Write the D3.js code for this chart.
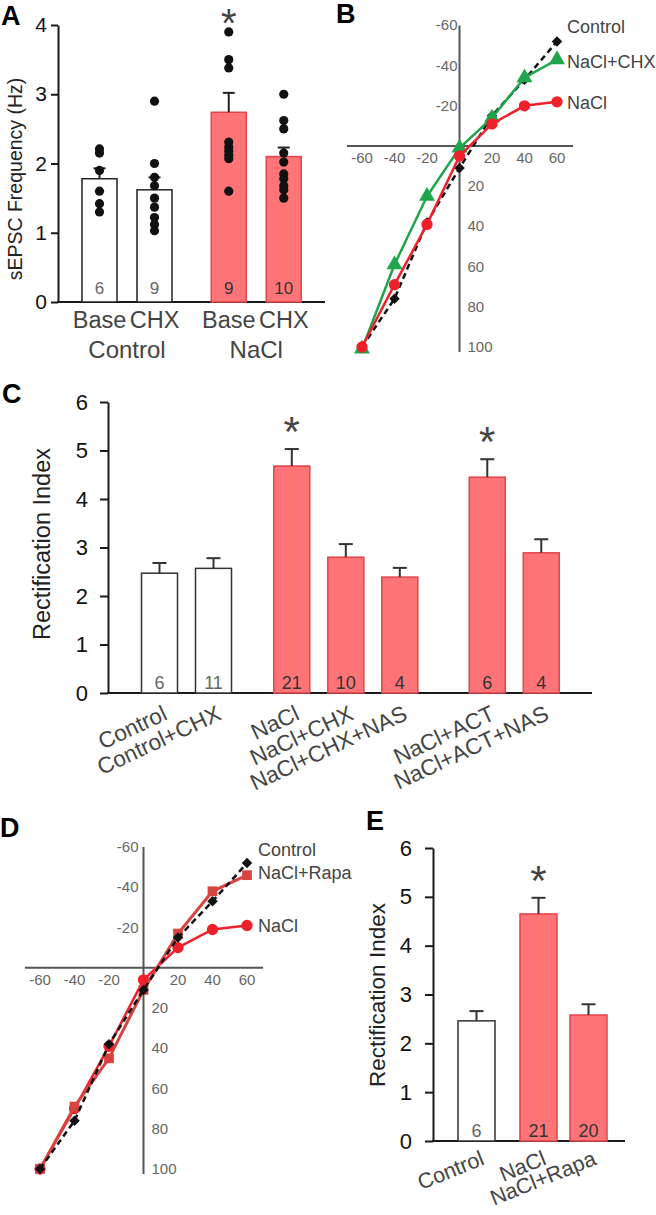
<!DOCTYPE html>
<html><head><meta charset="utf-8">
<script src="https://cdn.jsdelivr.net/npm/d3@7"></script>
<style>
body{margin:0;background:#fff}
svg{display:block}
text{font-family:"Liberation Sans",Arial,Helvetica,sans-serif}
</style>
</head><body>
<svg id="fig" width="656" height="1215"></svg>
<script>
// ---------------- DATA ----------------
// Panel A
const aGroups = ["Control", "NaCl"];
const aCats = ["Base", "CHX", "Base", "CHX"];
const aGroupOf = ["Control", "Control", "NaCl", "NaCl"];
const aMeans = [1.78, 1.62, 2.74, 2.10];
const aSems = [0.15, 0.18, 0.28, 0.13];
const aN = [6, 9, 9, 10];
const aSig = [false, false, true, false];
const aPoints = [
  [2.21, 2.15, 1.9, 1.6, 1.42, 1.3],
  [2.9, 2.0, 1.8, 1.68, 1.5, 1.37, 1.22, 1.12, 1.03],
  [3.9, 3.5, 3.38, 2.31, 2.24, 2.18, 2.12, 2.07, 1.6],
  [3.0, 2.62, 2.5, 2.15, 2.02, 1.85, 1.78, 1.68, 1.62, 1.5]
];
const aTicks = [0, 1, 2, 3, 4];

// Panels B and D (I-V curves)
const ivVoltages = [-60, -40, -20, 0, 20, 40, 60];
const ivXTicks = [-60, -40, -20, 20, 40, 60];
const ivYTicks = [-60, -40, -20, 20, 40, 60, 80, 100];
const bControl = [100, 76, 38, 11, -15, -33, -52];
const bNaClCHX = [101, 59, 25, 1, -14, -34, -43];
const bNaCl = [100, 69, 39, 5, -11, -20, -22];
const dControl = [100, 76, 38, 11, -15, -33, -52];
const dNaClRapa = [100, 69, 45, 11, -17, -38, -46];
const dNaCl = [100, 70, 39, 6, -10, -19, -21];

// Panel C
const cCats = ["Control", "Control+CHX", "NaCl", "NaCl+CHX", "NaCl+CHX+NAS", "NaCl+ACT", "NaCl+ACT+NAS"];
const cGroupOf = [0, 0, 1, 1, 1, 2, 2];
const cMeans = [2.47, 2.57, 4.68, 2.80, 2.39, 4.45, 2.89];
const cSems = [0.21, 0.21, 0.35, 0.27, 0.19, 0.37, 0.28];
const cN = [6, 11, 21, 10, 4, 6, 4];
const cSig = [false, false, true, false, false, true, false];
const riTicks = [0, 1, 2, 3, 4, 5, 6];

// Panel E
const eCats = ["Control", "NaCl", "NaCl+Rapa"];
const eGroupOf = [0, 1, 1];
const eMeans = [2.46, 4.65, 2.58];
const eSems = [0.20, 0.33, 0.22];
const eN = [6, 21, 20];
const eSig = [false, true, false];

// ---------------- DRAWING ----------------
const svg = d3.select("#fig");
svg.append("rect").attr("width", 656).attr("height", 1215).attr("fill", "#fff");

const RED_FILL = "#ff7477", RED_STROKE = "#e2444b";
const AX = "#1a1a1a";
const isNaCl = s => s.startsWith("NaCl");
const fmtInt = d3.format("d");

function panelLabel(t, x, y) {
  svg.append("text").attr("x", x).attr("y", y).text(t)
    .attr("font-size", 27).attr("font-weight", "bold").attr("fill", "#000");
}
function star(g, cx, cy, fs) {
  g.append("text").attr("x", cx).attr("y", cy).text("*")
    .attr("text-anchor", "middle").attr("font-size", fs).attr("fill", "#444");
}
function styleAxis(ga, fs, fam, col) {
  ga.select(".domain").attr("stroke", AX).attr("stroke-width", 2);
  ga.selectAll(".tick line").attr("stroke", AX).attr("stroke-width", 2);
  ga.selectAll(".tick text").attr("font-size", fs).attr("fill", col || "#111")
    .attr("font-family", fam);
}

// ---------- Panel A ----------
(function () {
  const g = svg.append("g");
  const y = d3.scaleLinear().domain([0, 4]).range([302, 25]);
  const x = d3.scaleLinear().domain([0, 1]).range([99.5, 154.5]);
  const slot = i => i + aGroups.indexOf(aGroupOf[i]) * 0.35;
  const bw = 35;
  const ga = g.append("g").attr("transform", "translate(58,0)")
    .call(d3.axisLeft(y).tickValues(aTicks).tickFormat(fmtInt).tickSize(7).tickSizeOuter(0).tickPadding(4));
  styleAxis(ga, 21, '"Liberation Sans",Arial,sans-serif', "#111");
  g.append("line").attr("x1", 57).attr("x2", 325).attr("y1", y(0)).attr("y2", y(0))
    .attr("stroke", AX).attr("stroke-width", 2);

  aMeans.forEach((m, i) => {
    const cx = x(slot(i));
    const red = aGroupOf[i] === "NaCl";
    g.append("rect").attr("x", cx - bw / 2).attr("y", y(m)).attr("width", bw).attr("height", y(0) - y(m))
      .attr("fill", red ? RED_FILL : "#fff").attr("stroke", red ? RED_STROKE : "#222").attr("stroke-width", 1.5);
    g.append("line").attr("x1", cx).attr("x2", cx).attr("y1", y(m)).attr("y2", y(m + aSems[i]))
      .attr("stroke", "#222").attr("stroke-width", 2);
    g.append("line").attr("x1", cx - 6).attr("x2", cx + 6).attr("y1", y(m + aSems[i])).attr("y2", y(m + aSems[i]))
      .attr("stroke", "#222").attr("stroke-width", 2);
    g.selectAll(null).data(aPoints[i]).enter().append("circle")
      .attr("cx", cx).attr("cy", d => y(d)).attr("r", 4.6).attr("fill", "#111");
    g.append("text").attr("x", cx).attr("y", y(0) - 8).text(aN[i]).attr("text-anchor", "middle")
      .attr("font-size", 17).attr("fill", red ? "#333" : "#666");
    g.append("text").attr("x", cx).attr("y", 328).text(aCats[i]).attr("text-anchor", "middle")
      .attr("font-size", 23.5).attr("fill", "#444");
    if (aSig[i]) star(g, cx, 37, 40);
  });
  aGroups.forEach((gr) => {
    const idx = aGroupOf.map((v, i) => v === gr ? i : -1).filter(i => i >= 0);
    const cx = (x(slot(idx[0])) + x(slot(idx[idx.length - 1]))) / 2;
    g.append("text").attr("x", cx).attr("y", 358).text(gr).attr("text-anchor", "middle")
      .attr("font-size", 24).attr("fill", "#444");
  });
  g.append("text").attr("transform", "translate(22,179) rotate(-90)").text("sEPSC Frequency (Hz)")
    .attr("text-anchor", "middle").attr("font-size", 19.5).attr("fill", "#222");
  panelLabel("A", 1, 25);
})();

// ---------- I-V panels ----------
function ivPanel(o) {
  const g = svg.append("g");
  const x = o.x, y = o.y;
  const axCol = "#555";
  g.append("line").attr("x1", x(-60) - 15).attr("x2", x(60) + 16).attr("y1", y(0)).attr("y2", y(0))
    .attr("stroke", axCol).attr("stroke-width", 2);
  g.append("line").attr("x1", x(0)).attr("x2", x(0)).attr("y1", y(-60)).attr("y2", y(100) + 5)
    .attr("stroke", axCol).attr("stroke-width", 2);
  const fam = '"Liberation Sans Narrow","Liberation Sans",Arial,sans-serif';
  ivXTicks.forEach(v => {
    g.append("text").attr("x", x(v)).attr("y", y(0) + 17).text(v).attr("text-anchor", "middle")
      .attr("font-size", 15).attr("font-family", fam).attr("fill", "#666");
  });
  ivYTicks.forEach(v => {
    g.append("text").attr("x", v < 0 ? x(0) + o.negPad : x(0) + 8).attr("y", y(v) + 5).text(v)
      .attr("text-anchor", v < 0 ? "end" : "start")
      .attr("font-size", 15).attr("font-family", fam).attr("fill", "#666");
  });
  o.series.forEach(s => {
    const pts = ivVoltages.map((v, i) => [v, s.values[i]]);
    g.append("path").datum(pts)
      .attr("d", d3.line().x(d => x(d[0])).y(d => y(d[1])))
      .attr("fill", "none").attr("stroke", s.color).attr("stroke-width", s.width || 2.5)
      .attr("stroke-dasharray", s.dash || null);
    g.selectAll(null).data(pts).enter().append("path")
      .attr("transform", d => `translate(${x(d[0])},${y(d[1])})` + (s.rot ? ` rotate(${s.rot})` : ""))
      .attr("d", d3.symbol().type(s.symbol).size(s.size))
      .attr("fill", s.color);
  });
  o.legend.forEach(l => {
    g.append("text").attr("x", l.x).attr("y", l.y).text(l.text)
      .attr("font-size", 18).attr("fill", "#444");
  });
}

// Panel B
ivPanel({
  x: d3.scaleLinear().domain([-60, 60]).range([362, 557]),
  y: d3.scaleLinear().domain([-60, 100]).range([25.4, 347]),
  negPad: -2,
  series: [
    { values: bControl, color: "#111", dash: "6,4", symbol: d3.symbolSquare, size: 55, rot: 45, width: 2.5 },
    { values: bNaClCHX, color: "#1fa54b", symbol: d3.symbolTriangle, size: 110 },
    { values: bNaCl, color: "#f0202a", symbol: d3.symbolCircle, size: 100 }
  ],
  legend: [
    { text: "Control", x: 567, y: 33 },
    { text: "NaCl+CHX", x: 567, y: 68 },
    { text: "NaCl", x: 567, y: 109 }
  ]
});
panelLabel("B", 336, 23);

// Panel D
ivPanel({
  x: d3.scaleLinear().domain([-60, 60]).range([40, 247]),
  y: d3.scaleLinear().domain([-60, 100]).range([847, 1169]),
  negPad: -5,
  series: [
    { values: dNaCl, color: "#f0202a", symbol: d3.symbolCircle, size: 100 },
    { values: dNaClRapa, color: "#d9433f", symbol: d3.symbolSquare, size: 95, width: 3 },
    { values: dControl, color: "#111", dash: "6,4", symbol: d3.symbolSquare, size: 55, rot: 45, width: 2.5 }
  ],
  legend: [
    { text: "Control", x: 258, y: 856 },
    { text: "NaCl+Rapa", x: 258, y: 879 },
    { text: "NaCl", x: 258, y: 932 }
  ]
});
panelLabel("D", 0, 837);

// ---------- Rectification index bar panels ----------
function riPanel(o) {
  const g = svg.append("g");
  const y = o.y, x = o.x;
  const ga = g.append("g").attr("transform", `translate(${o.axisX},0)`)
    .call(d3.axisLeft(y).tickValues(riTicks).tickFormat(fmtInt).tickSize(8).tickSizeOuter(0).tickPadding(o.tickPad));
  styleAxis(ga, 22, '"Open Sans","Liberation Sans",sans-serif', "#111");
  g.append("line").attr("x1", o.axisX - 1).attr("x2", o.xEnd).attr("y1", y(0)).attr("y2", y(0))
    .attr("stroke", AX).attr("stroke-width", 2);
  o.cats.forEach((c, i) => {
    const cx = x(i + o.gapOf[i]);
    const m = o.means[i], e = o.sems[i];
    const red = isNaCl(c);
    g.append("rect").attr("x", cx - o.bw / 2).attr("y", y(m)).attr("width", o.bw).attr("height", y(0) - y(m))
      .attr("fill", red ? RED_FILL : "#fff").attr("stroke", red ? RED_STROKE : "#333").attr("stroke-width", 1.5);
    g.append("line").attr("x1", cx).attr("x2", cx).attr("y1", y(m)).attr("y2", y(m + e))
      .attr("stroke", "#333").attr("stroke-width", 2);
    g.append("line").attr("x1", cx - 7).attr("x2", cx + 7).attr("y1", y(m + e)).attr("y2", y(m + e))
      .attr("stroke", "#333").attr("stroke-width", 2);
    g.append("text").attr("x", cx).attr("y", y(0) - 4).text(o.ns[i]).attr("text-anchor", "middle")
      .attr("font-size", 18).attr("fill", red ? "#333" : "#666");
    g.append("text").attr("transform", `translate(${cx + o.lblDx},${o.lblY}) rotate(${-o.lblAngle})`).text(c)
      .attr("text-anchor", "end").attr("font-size", o.lblFont).attr("fill", "#444");
    if (o.sig[i]) star(g, cx, y(m + e) - 3, 42);
  });
  g.append("text").attr("transform", `translate(${o.titleX},${o.titleY}) rotate(-90)`).text("Rectification Index")
    .attr("text-anchor", "middle").attr("font-size", o.titleFont).attr("fill", "#222");
}

// Panel C
riPanel({
  cats: cCats, means: cMeans, sems: cSems, ns: cN, sig: cSig,
  gapOf: cGroupOf.map(gi => [0, 0.45, 1.07][gi]),
  x: d3.scaleLinear().domain([0, 1]).range([159.5, 213.5]),
  y: d3.scaleLinear().domain([0, 6]).range([693, 402]),
  bw: 36, axisX: 108, xEnd: 592, tickPad: 12,
  lblDx: 9, lblY: 719, lblFont: 22.5, lblAngle: 25,
  titleX: 50, titleY: 544, titleFont: 23.5
});
panelLabel("C", 2, 403);

// Panel E
riPanel({
  cats: eCats, means: eMeans, sems: eSems, ns: eN, sig: eSig,
  gapOf: eGroupOf.map(gi => [0, 0.24][gi]),
  x: d3.scaleLinear().domain([0, 1]).range([476.5, 526.5]),
  y: d3.scaleLinear().domain([0, 6]).range([1141, 848]),
  bw: 37, axisX: 433, xEnd: 625, tickPad: 13,
  lblDx: 9, lblY: 1164, lblFont: 21.5, lblAngle: 22,
  titleX: 385, titleY: 995, titleFont: 22.5
});
panelLabel("E", 366, 830);
</script>
</body></html>
